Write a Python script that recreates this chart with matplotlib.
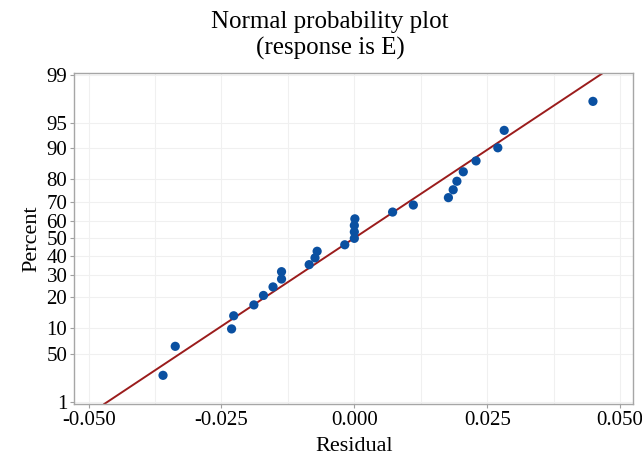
import numpy as np
import matplotlib
matplotlib.use("Agg")
import matplotlib.pyplot as plt
from matplotlib.ticker import MultipleLocator
from statistics import NormalDist

# residuals and their plotting positions in percent
residual = [-0.0360, -0.0337, -0.0231, -0.0227, -0.0189, -0.0171, -0.0153,
            -0.0137, -0.0137, -0.0085, -0.0074, -0.0070, -0.0018, 0.0000,
            0.0000, 0.0000, 0.0001, 0.0072, 0.0111, 0.0177, 0.0186,
            0.0193, 0.0205, 0.0229, 0.0270, 0.0282, 0.0449]
percent = [2.55, 6.20, 9.85, 13.50, 17.15, 20.80, 24.45, 28.10, 31.75,
           35.40, 39.05, 42.70, 46.35, 50.00, 53.65, 57.30, 60.95, 64.60,
           68.25, 71.90, 75.55, 79.20, 82.85, 86.50, 90.15, 93.80, 97.45]

# fitted normal line
line_mean = -0.0001
line_sd = 0.0199

ytick_pct = [1, 5, 10, 20, 30, 40, 50, 60, 70, 80, 90, 95, 99]
ytick_lab = ["1", "50", "10", "20", "30", "40", "50", "60", "70", "80", "90", "95", "99"]
xticks = [-0.050, -0.025, 0.000, 0.025, 0.050]

nd = NormalDist()
def z(p):
    return nd.inv_cdf(p / 100.0)

plt.rcParams['font.family'] = ['Liberation Serif', 'DejaVu Serif']

fig = plt.figure(figsize=(6.42, 4.63), dpi=100)
ax = fig.add_axes([0.1157, 0.1274, 0.8708, 0.7156])

zlim = (-2.36, 2.36)
ax.set_xlim(-0.0527, 0.0525)
ax.set_ylim(*zlim)

# grid
ax.xaxis.set_minor_locator(MultipleLocator(0.0125))
ax.grid(True, which='both', axis='x', color='#f0f0f0', lw=0.8)
ax.grid(True, which='major', axis='y', color='#f0f0f0', lw=0.8)
ax.set_axisbelow(True)

# fit line
zl = np.array(zlim)
ax.plot(line_mean + line_sd * zl, zl, color='#9b1c1c', lw=1.4, zorder=2)

# points
ax.scatter(residual, [z(p) for p in percent], s=44, color='#0a50a1',
           edgecolor='none', zorder=3)

ax.set_yticks([z(p) for p in ytick_pct])
ax.set_yticklabels(ytick_lab)
ax.set_xticks(xticks)
ax.set_xticklabels(["%.3f" % v for v in xticks])
ax.tick_params(which='both', length=0)
ax.tick_params(axis='both', which='major', length=3, color='#a0a0a0',
               labelsize=15, pad=2)
ax.tick_params(axis='x', which='minor', length=0)

for s in ax.spines.values():
    s.set_color('#a6a6a6')
    s.set_linewidth(1.0)

ax.set_xlabel("Residual", fontsize=16, labelpad=5)
ax.set_ylabel("Percent", fontsize=16, labelpad=4)
fig.text(0.514, 0.952, "Normal probability plot", fontsize=18,
         ha='center', va='center')
fig.text(0.514, 0.896, "(response is E)", fontsize=18,
         ha='center', va='center')

fig.savefig("out.png", dpi=100)
